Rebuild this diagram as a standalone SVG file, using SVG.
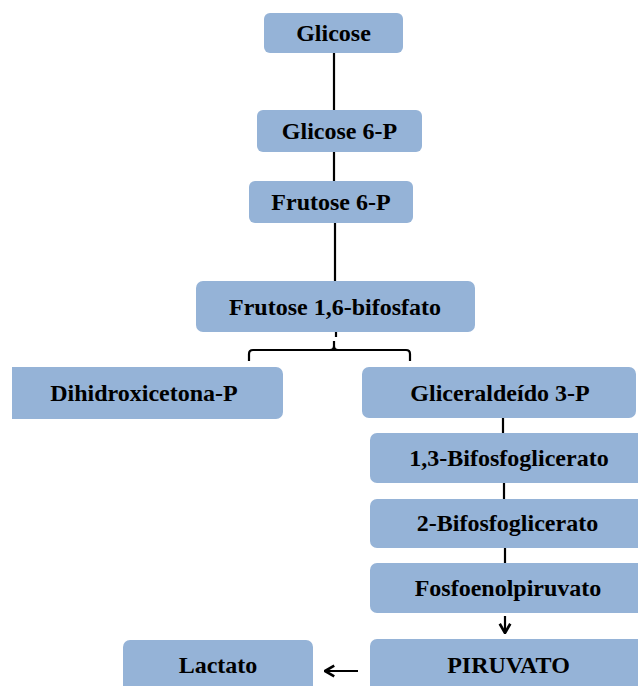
<svg xmlns="http://www.w3.org/2000/svg" width="638" height="686" viewBox="0 0 638 686">
<style>
.box{fill:#95B3D7;}
.t{font-family:"Liberation Serif","Times New Roman",serif;font-weight:bold;font-size:24px;fill:#000;text-anchor:middle;}
.c{stroke:#000;stroke-width:2.2;fill:none;}
</style>
<defs>
<marker id="ah" viewBox="0 0 10 10" refX="9" refY="5" markerWidth="6" markerHeight="6" orient="auto" markerUnits="strokeWidth">
<path d="M2,1 L9,5 L2,9" fill="none" stroke="#000" stroke-width="2"/>
</marker>
</defs>
<rect width="638" height="686" fill="#fff"/>
<g id="connectors">
<line class="c" x1="334" y1="53" x2="334" y2="110"/>
<line class="c" x1="334" y1="152" x2="334" y2="181"/>
<line class="c" x1="335" y1="223" x2="335" y2="281"/>
<line class="c" x1="336" y1="332" x2="336" y2="337"/>
<path class="c" d="M249,361 V354 Q249,350 253,350 H406 Q410,350 410,354 V361 M330,350 Q334,350 334,346 V341 M334,346 Q334,350 338,350"/>
<line class="c" x1="503" y1="418" x2="503" y2="433"/>
<line class="c" x1="504" y1="483" x2="504" y2="499"/>
<line class="c" x1="505" y1="548" x2="505" y2="563"/>
<line class="c" x1="505" y1="616" x2="505" y2="633" marker-end="url(#ah)"/>
<line class="c" x1="358" y1="671" x2="325" y2="671" marker-end="url(#ah)"/>
</g>
<g id="glicose"><rect class="box" x="264" y="13" width="139" height="40" rx="6"/><text class="t" x="333.5" y="41">Glicose</text></g>
<g id="glicose6p"><rect class="box" x="257" y="110" width="165" height="42" rx="6"/><text class="t" x="339.5" y="139">Glicose 6-P</text></g>
<g id="frutose6p"><rect class="box" x="249" y="181" width="164" height="42" rx="6"/><text class="t" x="331" y="210">Frutose 6-P</text></g>
<g id="frutose16"><rect class="box" x="196" y="281" width="279" height="51" rx="7"/><text class="t" x="335" y="315">Frutose 1,6-bifosfato</text></g>
<g id="dihidroxicetona"><rect class="box" x="12" y="367" width="271" height="52" rx="7"/><rect class="box" x="12" y="367" width="20" height="52"/><text class="t" x="144" y="401">Dihidroxicetona-P</text></g>
<g id="gliceraldeido"><rect class="box" x="362" y="367" width="274" height="51" rx="7"/><text class="t" x="500" y="401">Gliceraldeído 3-P</text></g>
<g id="bifosfoglicerato13"><rect class="box" x="370" y="433" width="275" height="50" rx="7"/><text class="t" x="509" y="466">1,3-Bifosfoglicerato</text></g>
<g id="bifosfoglicerato2"><rect class="box" x="370" y="499" width="275" height="49" rx="7"/><text class="t" x="507.5" y="531">2-Bifosfoglicerato</text></g>
<g id="fosfoenolpiruvato"><rect class="box" x="370" y="563" width="275" height="50" rx="7"/><text class="t" x="508" y="596">Fosfoenolpiruvato</text></g>
<g id="piruvato"><rect class="box" x="370" y="639" width="275" height="60" rx="7"/><text class="t" x="508.5" y="673">PIRUVATO</text></g>
<g id="lactato"><rect class="box" x="123" y="640" width="190" height="60" rx="7"/><text class="t" x="218" y="673">Lactato</text></g>
</svg>
